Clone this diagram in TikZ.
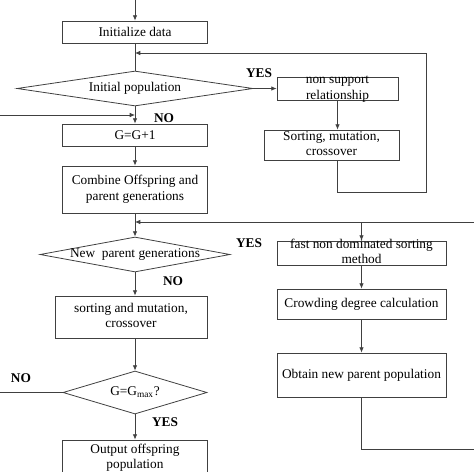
\documentclass[tikz,border=0pt]{standalone}
\usepackage{fontspec}
\setmainfont{Liberation Serif}
\usetikzlibrary{shapes.geometric, arrows.meta, positioning, calc}

\begin{document}
\begin{tikzpicture}[
    x=0.75pt, y=-0.75pt,
    font=\fontsize{10}{11.5}\selectfont,
    box/.style={rectangle, draw=black!75, line width=0.6pt, align=center, inner sep=1pt},
    twoline/.style={inner ysep=0pt, text depth=0pt, text height=16.1pt},
    dec/.style={diamond, draw=black!75, line width=0.6pt, inner sep=0pt, aspect=6, text height=4.6pt, text depth=0pt},
    lab/.style={font=\fontsize{10}{11.5}\selectfont\bfseries},
    arr/.style={draw=black!75, line width=0.6pt, -{Latex[length=4pt,width=3.4pt]}},
    ln/.style={draw=black!75, line width=0.6pt}
]
    \useasboundingbox (0,0) rectangle (474,471);

    % Main column
    \node[box, minimum width=108.75pt, minimum height=16.5pt] (init) at (135,32) {Initialize data};
    \node[dec, minimum width=177pt, minimum height=26.25pt] (popdec) at (135,88.5) {Initial population};
    \node[box, minimum width=108.75pt, minimum height=16.5pt] (gplus) at (135,135) {G=G+1};
    \node[box, twoline, minimum width=108.75pt, minimum height=35.25pt] (combine) at (135,189.5) {Combine Offspring and\\parent generations};
    \node[dec, minimum width=142.5pt, minimum height=26.25pt] (newdec) at (135,254.5) {New\ \ parent generations};
    \node[box, twoline, minimum width=114pt, minimum height=31.5pt] (sortcross) at (131,317) {sorting and mutation,\\crossover};
    \node[dec, minimum width=108pt, minimum height=32.25pt] (gmax) at (135,392.5) {G=G\textsubscript{max}?};
    \node[box, twoline, minimum width=108.75pt, minimum height=27pt] (output) at (135,458) {Output offspring\\population};

    % Right column
    \node[box, twoline, minimum width=90.75pt, minimum height=17.25pt] (nonsup) at (337.5,88.5) {non support\\relationship};
    \node[box, twoline, minimum width=101.25pt, minimum height=22.5pt] (sortmut) at (331.5,145) {Sorting, mutation,\\crossover};
    \node[box, twoline, minimum width=126.75pt, minimum height=18pt] (fastnd) at (361.5,253) {fast non dominated sorting\\method};
    \node[box, minimum width=126.75pt, minimum height=22.5pt] (crowd) at (361.5,304) {Crowding degree calculation};
    \node[box, minimum width=126.75pt, minimum height=33pt] (obtain) at (361.5,375) {Obtain new parent population};

    % YES / NO labels
    \node[lab] (yesA) at (259,73.5) {YES};
    \node[lab] (noA) at (164,118) {NO};
    \node[lab] (yesB) at (249,243) {YES};
    \node[lab] (noB) at (173,281) {NO};
    \node[lab] (noC) at (21,378) {NO};
    \node[lab] (yesC) at (165,422) {YES};

    % Free ends of the loops
    \coordinate (topin) at (135,0);
    \coordinate (joinA) at (135,53);
    \coordinate (loopR) at (426,192);
    \coordinate (inL) at (0,115);
    \coordinate (inR) at (474,222);
    \coordinate (joinB) at (135,222);
    \coordinate (outL) at (0,392.5);
    \coordinate (outR) at (474,449);

    % Connectors
    \draw[arr] (topin) -- (init);
    \draw[ln] (init) -- (popdec);
    \draw[arr] (popdec) -- (nonsup);
    \draw[arr] (nonsup.south) -- (nonsup.south |- sortmut.north);
    \draw[arr] (nonsup.south |- sortmut.south) |- (loopR) |- (joinA);
    \draw[arr] (popdec) -- (gplus);
    \draw[arr] (inL) -- (inL -| gplus.north);
    \draw[arr] (gplus) -- (combine);
    \draw[arr] (combine) -- (newdec);
    \draw[arr] (inR) -- (joinB);
    \draw[arr] (inR -| fastnd.north) -- (fastnd);
    \draw[arr] (newdec) -- (newdec.south |- sortcross.north);
    \draw[arr] (newdec.south |- sortcross.south) -- (gmax);
    \draw[ln] (gmax) -- (outL);
    \draw[arr] (gmax) -- (output);
    \draw[arr] (fastnd) -- (crowd);
    \draw[arr] (crowd) -- (obtain);
    \draw[ln] (obtain) |- (outR);
\end{tikzpicture}
\end{document}
